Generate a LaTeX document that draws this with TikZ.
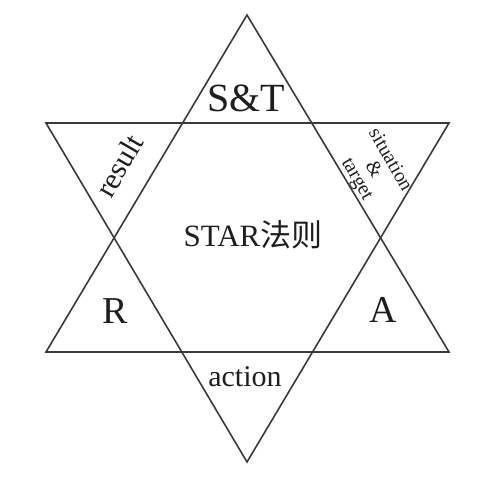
\documentclass[tikz,border=0pt]{standalone}
\usepackage{fontspec}
\setmainfont{Liberation Serif}
\newfontfamily\cjk{Noto Sans CJK SC}
\definecolor{starline}{HTML}{3A3A3A}
\definecolor{startext}{HTML}{1E1E1E}
\tikzset{
  edge/.style={draw=starline, line width=1.6pt, line join=miter},
  bigletter/.style={text=startext, inner sep=0pt, font=\fontsize{40}{44}\selectfont},
  sidelabel/.style={text=startext, inner sep=0pt, font=\fontsize{30}{32}\selectfont}
}
\begin{document}
\begin{tikzpicture}[x=1pt,y=-1pt]
	\useasboundingbox (0,0) rectangle (504,484);

	% upward triangle
	\coordinate (uptop) at (247,15);
	\coordinate (upleft) at (46,352);
	\coordinate (upright) at (449,352);
	\draw[edge] (uptop) -- (upleft) -- (upright) -- cycle;

	% downward triangle
	\coordinate (dnleft) at (46,123);
	\coordinate (dnright) at (449,123);
	\coordinate (dnbottom) at (247,462);
	\draw[edge] (dnleft) -- (dnright) -- (dnbottom) -- cycle;

	% points of the star
	\node[bigletter] (st) at (246,98) {S\&T};
	\node[bigletter, font=\fontsize{38}{42}\selectfont] (r) at (115,311) {R};
	\node[bigletter, font=\fontsize{38}{42}\selectfont] (a) at (383,310) {A};
	\node[sidelabel] (action) at (245,377) {action};
	\node[sidelabel, rotate=60] (result) at (119,166) {result};
	\node[sidelabel, rotate=-60, align=center, font=\fontsize{20}{19}\selectfont] (sit) at (373,170) {situation\\\&\\target};

	% centre
	\node[text=startext, inner sep=0pt, font=\fontsize{31}{34}\selectfont] (star) at (253,235) {STAR{\cjk 法则}};
\end{tikzpicture}
\end{document}
